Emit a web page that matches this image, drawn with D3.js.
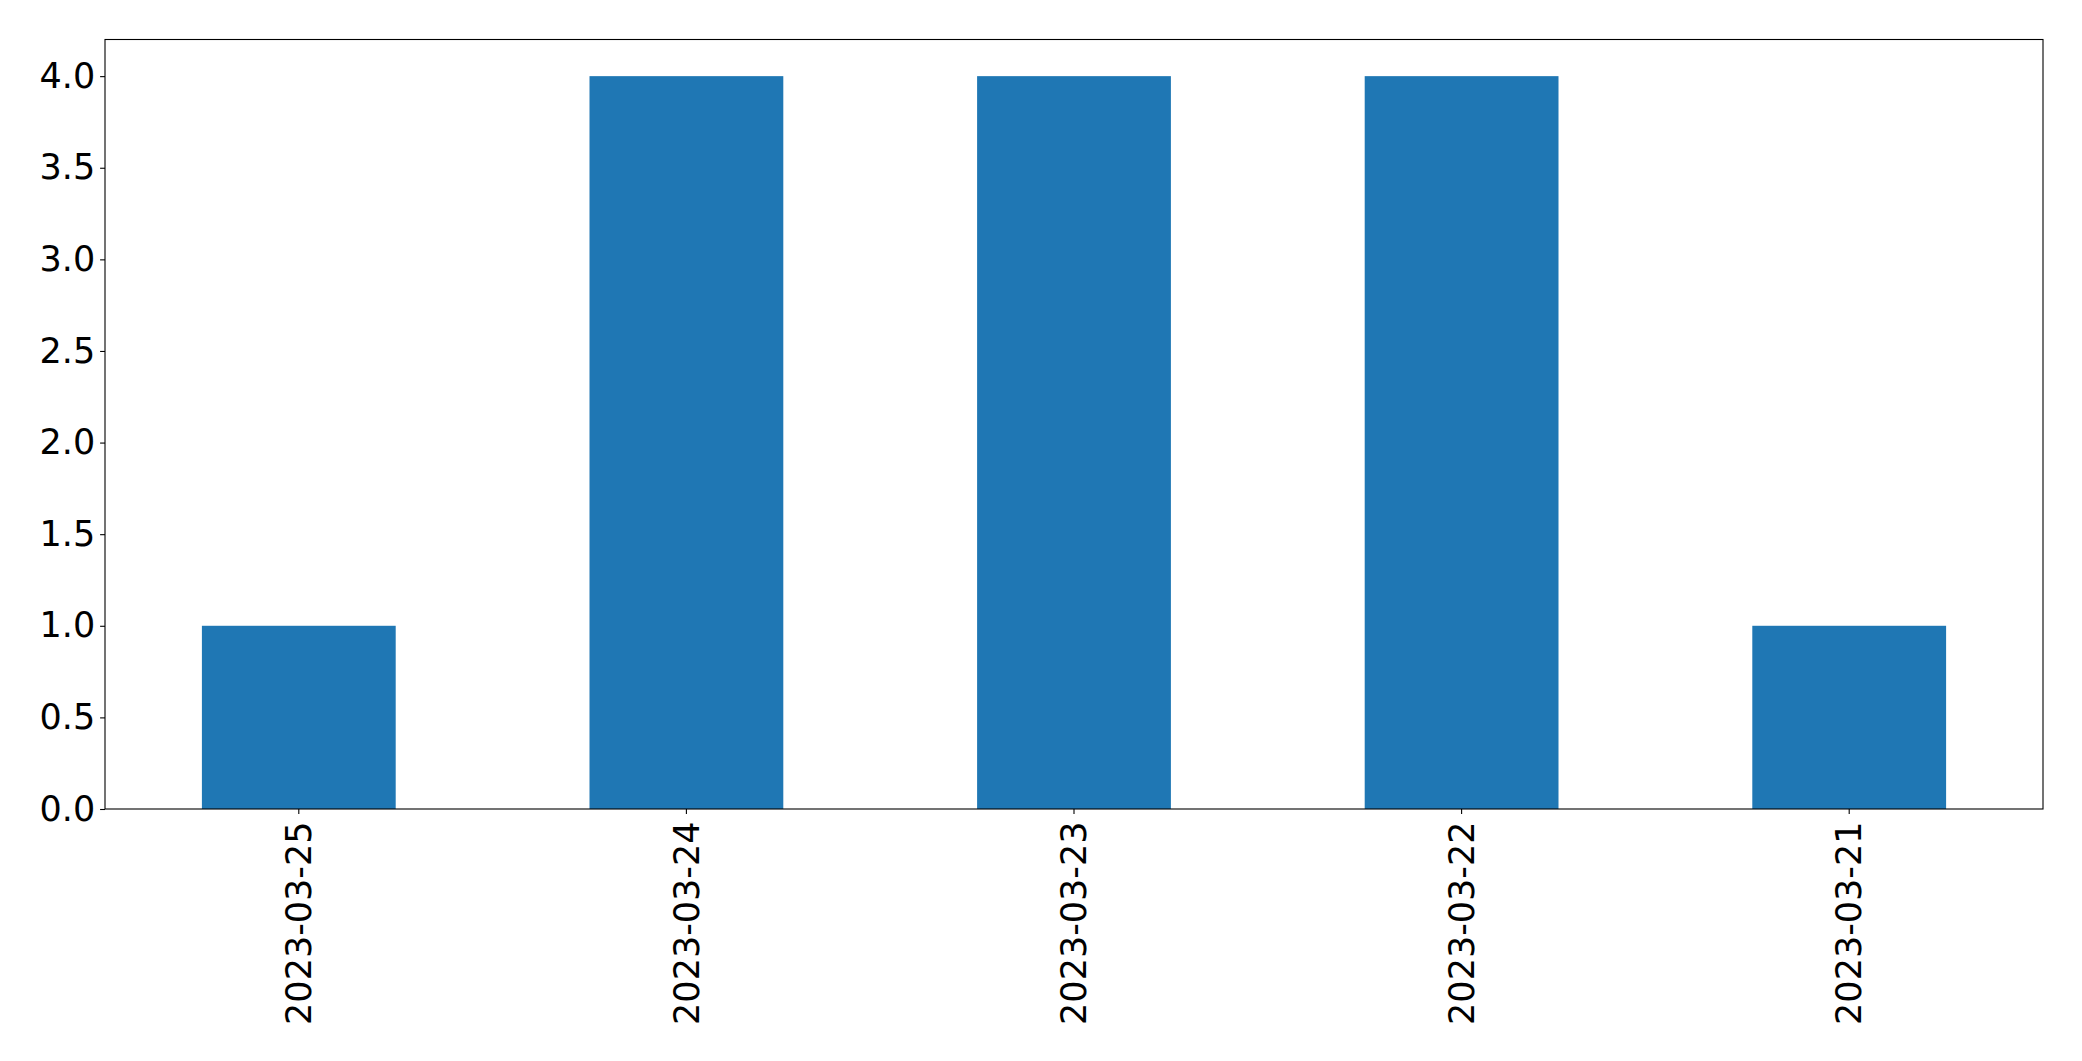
<!DOCTYPE html>
<html>
<head>
<meta charset="utf-8">
<script src="https://cdn.jsdelivr.net/npm/d3@7"></script>
<style>
html,body{margin:0;padding:0;background:#fff;}
svg{display:block;}
</style>
</head>
<body>
<script>
const categories = ["2023-03-25","2023-03-24","2023-03-23","2023-03-22","2023-03-21"];
const values = [1, 4, 4, 4, 1];
const yTicks = [0, 0.5, 1.0, 1.5, 2.0, 2.5, 3.0, 3.5, 4.0];

const W = 2082, H = 1061;
const m = {left: 105, right: W - 2043, top: 39.5, bottom: H - 809};
const svg = d3.select("body").append("svg").attr("width", W).attr("height", H);

const x = d3.scaleBand().domain(categories).range([m.left, W - m.right]).paddingInner(0.5).paddingOuter(0.25);
const y = d3.scaleLinear().domain([0, 4.2]).range([H - m.bottom, m.top]);

svg.append("g").selectAll("rect").data(values).join("rect")
  .attr("x", (d,i) => x(categories[i]))
  .attr("width", x.bandwidth())
  .attr("y", d => y(d))
  .attr("height", d => y(0) - y(d))
  .attr("fill", "#1f77b4");

const font = "'DejaVu Sans', sans-serif";
const fs = 35;

const yAxis = svg.append("g").attr("transform", `translate(${m.left},0)`)
  .call(d3.axisLeft(y).tickValues(yTicks).tickFormat(d3.format(".1f")).tickSize(4.9).tickPadding(4.9));
yAxis.select(".domain").remove();
yAxis.selectAll("line").attr("stroke", "#000").attr("stroke-width", 1.1);
yAxis.selectAll("text").attr("font-family", font).attr("font-size", fs).attr("fill", "#000");

const xAxis = svg.append("g").attr("transform", `translate(0,${H - m.bottom})`)
  .call(d3.axisBottom(x).tickSize(4.9).tickPadding(4.9));
xAxis.select(".domain").remove();
xAxis.selectAll("line").attr("stroke", "#000").attr("stroke-width", 1.1);
xAxis.selectAll("text")
  .attr("font-family", font).attr("font-size", fs).attr("fill", "#000")
  .attr("transform", "rotate(-90)")
  .attr("text-anchor", "end")
  .attr("x", -12.5).attr("y", 0).attr("dy", "0.35em");

svg.append("rect")
  .attr("x", m.left).attr("y", m.top)
  .attr("width", W - m.right - m.left).attr("height", H - m.bottom - m.top)
  .attr("fill", "none").attr("stroke", "#000").attr("stroke-width", 1.1);
</script>
</body>
</html>
